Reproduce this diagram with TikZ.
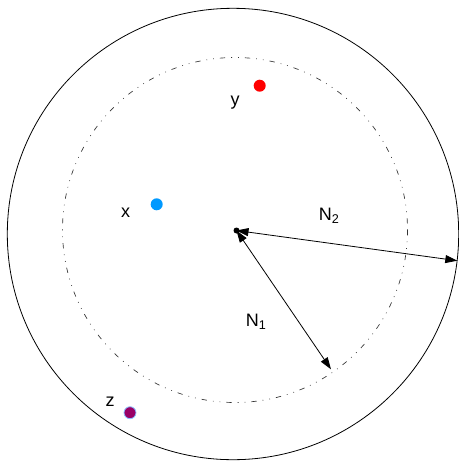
\documentclass[tikz,border=0pt]{standalone}
\usepackage{fontspec}
\setmainfont{Liberation Sans}
\usetikzlibrary{arrows.meta}
\definecolor{dotred}{RGB}{255,0,0}
\definecolor{dotblue}{RGB}{0,153,255}
\definecolor{dotpurple}{RGB}{153,0,102}
\definecolor{dotrim}{RGB}{140,190,255}
\newcommand{\mysub}[1]{\raisebox{-0.35ex}{\fontsize{9.5}{11}\selectfont #1}}
\begin{document}
\begin{tikzpicture}[x=0.75pt,y=-0.75pt,
  lbl/.style={font=\fontsize{13.5}{15}\selectfont, inner sep=0pt},
  pt/.style={circle, minimum size=9pt, inner sep=0pt},
  rad/.style={line width=0.6pt, {Triangle[length=9pt,width=6pt]}-{Triangle[length=9pt,width=6pt]}},
  ddd/.style={line width=0.5pt, black!80, dash pattern=on 4pt off 4.5pt on 0.6pt off 4.5pt on 0.6pt off 4.5pt}]
\useasboundingbox (0,0) rectangle (459,461);
\draw[line width=0.6pt] (233,234) circle (225.7);
\draw[ddd] (235,230) circle (172.5);
\node[pt, fill=dotred] (y) at (259.7,85.7) {};
\node[pt, fill=dotblue] (x) at (156.7,204.3) {};
\node[pt, fill=dotpurple, draw=dotrim, line width=0.6pt] (z) at (130,412.7) {};
\node[lbl] (ly) at (235,103) {y};
\node[lbl] (lx) at (125.7,213) {x};
\node[lbl] (lz) at (110,402) {z};
\node[lbl] (n2) at (329,216) {N\mysub{2}};
\node[lbl] (n1) at (256,322) {N\mysub{1}};
\node[circle, fill=black, minimum size=4.5pt, inner sep=0pt] (c) at (236.5,230.5) {};
\coordinate (t2) at (457.3,260.7);
\coordinate (t1) at (331,369.3);
\draw[rad] (c.center) -- (t2);
\draw[rad] (c.center) -- (t1);
\end{tikzpicture}
\end{document}
